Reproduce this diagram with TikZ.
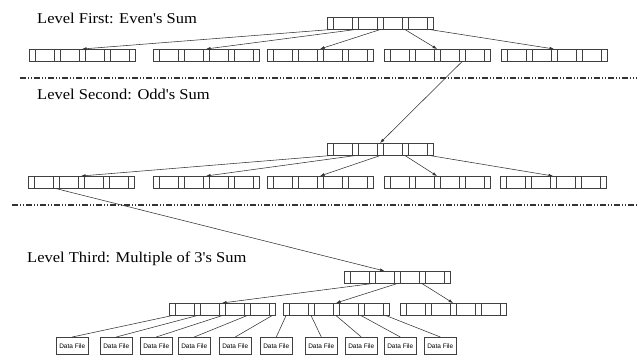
\documentclass[tikz,border=0pt]{standalone}
\usepackage{fontspec}
\setmainfont{Liberation Serif}
\newfontfamily\filefont{Liberation Sans}
\newfontfamily\levelfont[FakeStretch=1.1]{Liberation Serif}
\usetikzlibrary{arrows.meta,shapes.multipart}

% one index block: pointer / key / pointer / ... / pointer
\newcommand{\keycells}{\rule{0pt}{12pt}\rule{5.5pt}{0pt}\nodepart{two}\rule{18.3pt}{0pt}\nodepart{three}\rule{5.5pt}{0pt}\nodepart{four}\rule{18.3pt}{0pt}\nodepart{five}\rule{5.5pt}{0pt}\nodepart{six}\rule{18.3pt}{0pt}\nodepart{seven}\rule{5.5pt}{0pt}\nodepart{eight}\rule{18.3pt}{0pt}\nodepart{nine}\rule{5.5pt}{0pt}}

\begin{document}
\begin{tikzpicture}[
        x=1pt, y=-1pt,
        block/.style={draw=black!75, line width=0.6pt, rectangle split, rectangle split horizontal, rectangle split parts=9, inner sep=0pt, anchor=north west},
        datafile/.style={draw=black!75, line width=0.6pt, font=\filefont\fontsize{6.5}{7.5}\selectfont, minimum width=32pt, minimum height=17pt, inner sep=0pt, anchor=north west},
        level/.style={font=\levelfont\fontsize{15}{17}\selectfont, inner sep=0pt, anchor=base west},
        arrow/.style={-{Latex[length=4.5pt,width=3.2pt]}, line width=0.55pt, black!80},
        link/.style={line width=0.55pt, black!80},
        sepline/.style={line width=1.1pt, black!80, dash pattern=on 6pt off 2pt on 1pt off 2pt on 1pt off 2pt}
    ]
        \useasboundingbox (0,0) rectangle (637,355);

        % level one
        \node[level] (lvlone) at (37,24) {Level First: Even's Sum};
        \node[block] (evenroot) at (327,17) {\keycells};
        \node[block] (even1) at (29,49) {\keycells};
        \node[block] (even2) at (153,49) {\keycells};
        \node[block] (even3) at (267,49) {\keycells};
        \node[block] (even4) at (384,49) {\keycells};
        \node[block] (even5) at (501,49) {\keycells};
        \draw[arrow] (evenroot.one south) -- (even1.five north);
        \draw[arrow] (evenroot.three south) -- (even2.five north);
        \draw[arrow] (evenroot.five south) -- (even3.five north);
        \draw[arrow] (evenroot.seven south) -- (even4.five north);
        \draw[arrow] (evenroot.nine south) -- (even5.five north);

        \draw[sepline] (20,78) -- (637,78);

        % level two
        \node[level] (lvltwo) at (37,100) {Level Second: Odd's Sum};
        \node[block] (oddroot) at (327,143) {\keycells};
        \node[block] (odd1) at (28,176) {\keycells};
        \node[block] (odd2) at (153,176) {\keycells};
        \node[block] (odd3) at (267,176) {\keycells};
        \node[block] (odd4) at (384,176) {\keycells};
        \node[block] (odd5) at (500,176) {\keycells};
        \draw[arrow] (even4.seven south) -- (oddroot.five north);
        \draw[arrow] (oddroot.one south) -- (odd1.five north);
        \draw[arrow] (oddroot.three south) -- (odd2.five north);
        \draw[arrow] (oddroot.five south) -- (odd3.five north);
        \draw[arrow] (oddroot.seven south) -- (odd4.five north);
        \draw[arrow] (oddroot.nine south) -- (odd5.five north);

        \draw[sepline] (12,205) -- (637,205);

        % level three
        \node[level] (lvlthree) at (27,263) {Level Third: Multiple of 3's Sum};
        \node[block] (triroot) at (344,271) {\keycells};
        \node[block] (tri1) at (169,303) {\keycells};
        \node[block] (tri2) at (283,303) {\keycells};
        \node[block] (tri3) at (400,303) {\keycells};
        \draw[arrow] (odd1.three south) -- (triroot.four north);
        \draw[arrow] (triroot.three south) -- (tri1.five north);
        \draw[arrow] (triroot.five south) -- (tri2.five north);
        \draw[arrow] (triroot.seven south) -- (tri3.five north);

        % data files
        \node[datafile] (file1) at (56,337) {Data File};
        \node[datafile] (file2) at (100,337) {Data File};
        \node[datafile] (file3) at (140,337) {Data File};
        \node[datafile] (file4) at (178,337) {Data File};
        \node[datafile] (file5) at (219,337) {Data File};
        \node[datafile] (file6) at (260,337) {Data File};
        \node[datafile] (file7) at (305,337) {Data File};
        \node[datafile] (file8) at (345,337) {Data File};
        \node[datafile] (file9) at (384,337) {Data File};
        \node[datafile] (file10) at (424,337) {Data File};
        \draw[link] (tri1.one south) -- (file1.north);
        \draw[link] (tri1.three south) -- (file2.north);
        \draw[link] (tri1.five south) -- (file3.north);
        \draw[link] (tri1.seven south) -- (file4.north);
        \draw[link] (tri1.nine south) -- (file5.north);
        \draw[link] (tri2.one south) -- (file6.north);
        \draw[link] (tri2.three south) -- (file7.north);
        \draw[link] (tri2.five south) -- (file8.north);
        \draw[link] (tri2.seven south) -- (file9.north);
        \draw[link] (tri2.nine south) -- (file10.north);
    \end{tikzpicture}
\end{document}
